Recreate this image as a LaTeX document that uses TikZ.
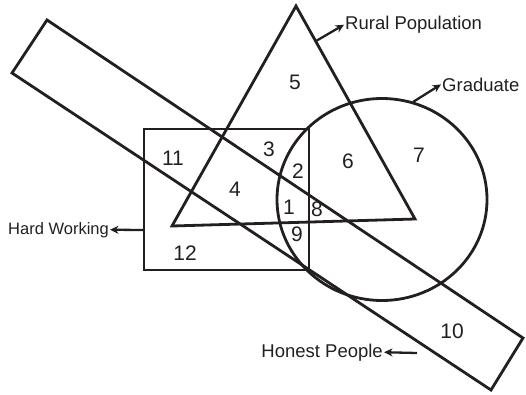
\documentclass[tikz,border=0pt]{standalone}
\usepackage{fontspec}
\setmainfont{Liberation Sans}
\usepackage{tikz}
\usetikzlibrary{arrows.meta}

\definecolor{ink}{RGB}{35,31,32}

\begin{document}
\begin{tikzpicture}[
        x=1pt, y=-1pt,
        set/.style={draw=ink, line width=2.8pt, line join=miter},
        region/.style={inner sep=0pt, text=ink, font=\fontsize{21}{24}\selectfont},
        setname/.style={inner sep=1pt, text=ink, font=\fontsize{18.5}{22}\selectfont},
        pointer/.style={-{Stealth[length=8.5pt, width=8pt]}, draw=ink, line width=2.3pt}
    ]

    \useasboundingbox (0,0) rectangle (526,394);

    \draw[set] (296,6) -- (415,219) -- (172,226) -- cycle;
    \draw[set] (382,199.5) ellipse [x radius=105, y radius=101];
    \draw[set] (144,129) rectangle (309,270);
    \draw[set] (47,20) -- (523,338) -- (491,390) -- (12,73) -- cycle;

    \node[region] (r1) at (289,207) {1};
    \node[region] (r2) at (298,171) {2};
    \node[region] (r3) at (269,149) {3};
    \node[region] (r4) at (235,189) {4};
    \node[region] (r5) at (295,82) {5};
    \node[region] (r6) at (348,161) {6};
    \node[region] (r7) at (419,155) {7};
    \node[region] (r8) at (317,209) {8};
    \node[region] (r9) at (297,234) {9};
    \node[region] (r10) at (452,331) {10};
    \node[region] (r11) at (173,158) {11};
    \node[region] (r12) at (185,253) {12};

    \coordinate (ruralfoot) at (316,41);
    \coordinate (gradfoot) at (413,102);
    \coordinate (hardfoot) at (144,230);
    \coordinate (honestfoot) at (417,353);

    \node[setname, anchor=base west] (rural) at (344,29.5) {Rural Population};
    \node[setname, anchor=base west] (grad) at (441,91) {Graduate};
    \node[setname, anchor=base east, font=\fontsize{16.5}{20}\selectfont] (hard) at (110,234) {Hard Working};
    \node[setname, anchor=base east] (honest) at (384,357) {Honest People};

    \draw[pointer] (ruralfoot) -- (rural.west);
    \draw[pointer] (gradfoot) -- (grad.west);
    \draw[pointer] (hardfoot) -- (hard.east);
    \draw[pointer] (honestfoot) -- (honest.east);
\end{tikzpicture}
\end{document}
